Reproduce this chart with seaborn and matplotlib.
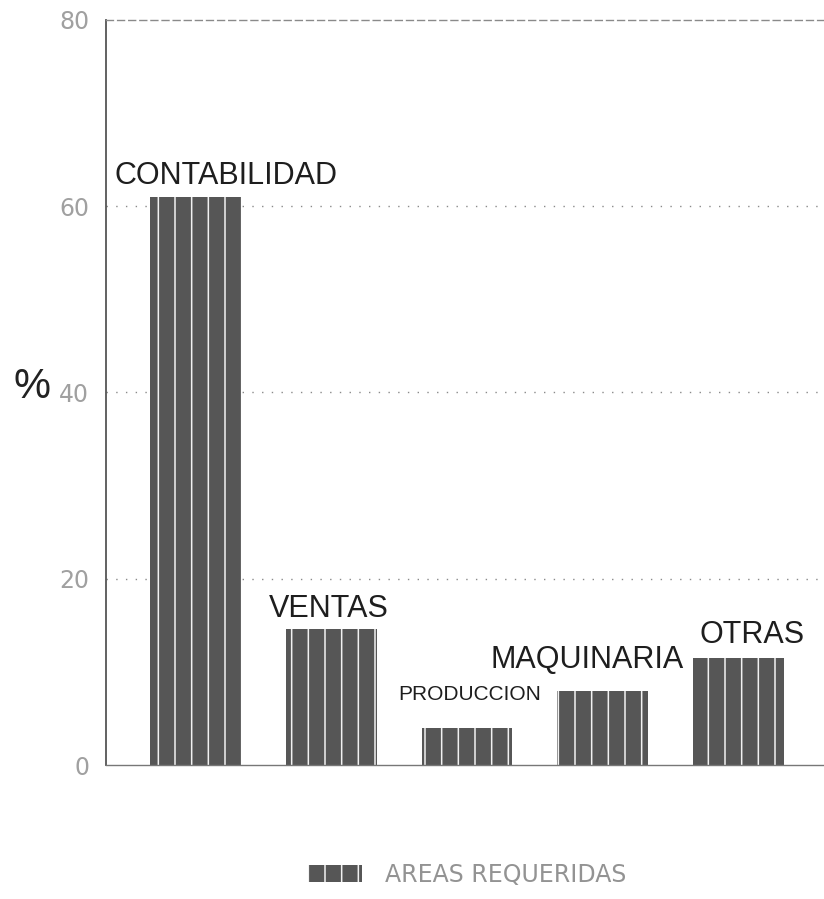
import matplotlib
matplotlib.use("Agg")
import matplotlib.pyplot as plt
from matplotlib.patches import Patch
import seaborn as sns
import pandas as pd

# Data
areas = ["CONTABILIDAD", "VENTAS", "PRODUCCION", "MAQUINARIA", "OTRAS"]
porcentajes = [61.0, 14.6, 4.0, 8.0, 11.5]
y_ticks = [0, 20, 40, 60, 80]
serie = "AREAS REQUERIDAS"

df = pd.DataFrame({"area": areas, "pct": porcentajes})

sns.set_theme(style="white")
plt.rcParams["font.family"] = ["Liberation Sans", "DejaVu Sans"]
plt.rcParams["hatch.color"] = "#f2f2f2"
plt.rcParams["hatch.linewidth"] = 1.1

fig = plt.figure(figsize=(8.24, 8.99), dpi=100)
ax = fig.add_axes([0.1286, 0.149, 0.8714, 0.829])

bar_color = "#565656"
sns.barplot(data=df, x="area", y="pct", color=bar_color, saturation=1,
            width=0.67, ax=ax, edgecolor="none")
for p in ax.patches:
    p.set_hatch("|")
    p.set_edgecolor("#f2f2f2")
    p.set_linewidth(0)

ax.set_xlim(-0.66, 4.63)
ax.set_ylim(0, 80)
ax.set_yticks(y_ticks)
ax.set_yticklabels([str(t) for t in y_ticks], fontsize=17, color="#a0a0a0",
                   family="DejaVu Sans")
ax.set_xticks([])
ax.set_xlabel("")
ax.set_ylabel("")
ax.tick_params(axis="y", length=0, pad=12)

# dotted grid lines
for t in y_ticks[1:-1]:
    ax.axhline(t, color="#8a8a8a", lw=1.0, ls=(0, (1, 6)), zorder=0)

ax.spines["right"].set_visible(False)
ax.spines["top"].set_color("#8a8a8a")
ax.spines["top"].set_linewidth(1.0)
ax.spines["top"].set_linestyle((0, (5, 3)))
ax.spines["left"].set_color("#555555")
ax.spines["left"].set_linewidth(1.3)
ax.spines["bottom"].set_color("#777777")
ax.spines["bottom"].set_linewidth(1.0)

# Labels above each bar (offsets in points: dx, dy, fontsize)
label_style = {
    "CONTABILIDAD": (22, 9, 22),
    "VENTAS": (-2, 9, 22),
    "PRODUCCION": (2, 20, 15),
    "MAQUINARIA": (-11, 16, 22),
    "OTRAS": (10, 11, 22),
}
for i, (a, v) in enumerate(zip(areas, porcentajes)):
    dx, dy, fs = label_style[a]
    ax.annotate(a, xy=(i, v), xytext=(dx, dy), textcoords="offset points",
                ha="center", va="baseline", fontsize=fs, color="#1e1e1e")

# Percent sign as axis label
fig.text(0.039, 0.570, "%", fontsize=30, color="#222222", ha="center",
         va="center")

handle = Patch(facecolor=bar_color, hatch="|", edgecolor="#f2f2f2", linewidth=0)
fig.legend([handle], [serie], loc="center", bbox_to_anchor=(0.567, 0.027),
           frameon=False, handlelength=2.3, handleheight=0.75,
           handletextpad=1.0,
           prop={"family": "DejaVu Sans", "size": 17}, labelcolor="#939393")

fig.savefig("out.png", dpi=100)
